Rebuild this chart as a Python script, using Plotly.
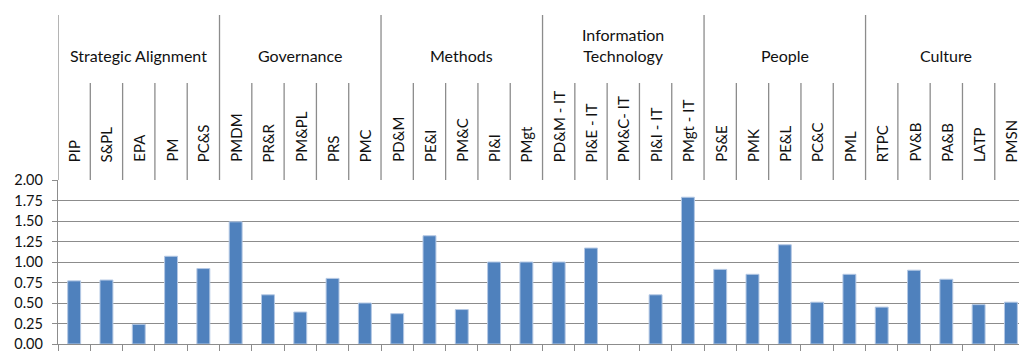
import plotly.graph_objects as go

# Capability areas and their sub-categories
groups = ["Strategic Alignment", "Governance", "Methods",
          "Information<br>Technology", "People", "Culture"]
categories = [
    "PIP", "S&PL", "EPA", "PM", "PC&S",
    "PMDM", "PR&R", "PM&PL", "PRS", "PMC",
    "PD&M", "PE&I", "PM&C", "PI&I", "PMgt",
    "PD&M - IT", "PI&E - IT", "PM&C- IT", "PI&I - IT", "PMgt - IT",
    "PS&E", "PMK", "PE&L", "PC&C", "PML",
    "RTPC", "PV&B", "PA&B", "LATP", "PMSN",
]
scores = [
    0.77, 0.78, 0.24, 1.07, 0.92,
    1.49, 0.60, 0.39, 0.80, 0.50,
    0.37, 1.32, 0.42, 1.00, 1.00,
    1.00, 1.17, 0.00, 0.60, 1.79,
    0.91, 0.85, 1.21, 0.51, 0.85,
    0.45, 0.90, 0.79, 0.48, 0.51,
]
y_ticks = [0.0, 0.25, 0.5, 0.75, 1.0, 1.25, 1.5, 1.75, 2.0]

FONT = "Lato"
TEXT = "#111111"
LINE = "#8c8c8c"
per_group = len(categories) // len(groups)
n = len(categories)
idx = list(range(n))

fig = go.Figure(go.Bar(
    x=idx, y=scores, width=0.4,
    marker=dict(
        color="#4F81BD",
        line=dict(color="#b4c8e4", width=[1 if v > 0 else 0 for v in scores]),
    ),
))

plot_h = 164  # px height of the plotting area
top_sep = 1 + 165 / plot_h      # group divider top
sub_sep = 1 + 97 / plot_h       # category divider top

shapes = []
for b in range(n + 1):
    x0 = b - 0.5
    shapes.append(dict(
        type="line", xref="x", yref="paper", x0=x0, x1=x0,
        y0=1, y1=top_sep if b % per_group == 0 else sub_sep,
        line=dict(color=LINE, width=1.3), layer="above",
    ))

annotations = []
for i, c in enumerate(categories):
    annotations.append(dict(
        x=i, y=1, xref="x", yref="paper", yshift=16,
        text=c, textangle=-90, showarrow=False,
        xanchor="center", yanchor="bottom",
        font=dict(family=FONT, size=15, color=TEXT),
    ))
for g, name in enumerate(groups):
    annotations.append(dict(
        x=g * per_group + (per_group - 1) / 2, y=1 + 113 / plot_h,
        xref="x", yref="paper", text=name, showarrow=False,
        xanchor="center", yanchor="bottom",
        font=dict(family=FONT, size=16, color=TEXT),
    ))

fig.update_layout(
    width=1019, height=352,
    margin=dict(l=58, r=0, t=180, b=8),
    paper_bgcolor="white", plot_bgcolor="white",
    showlegend=False, bargap=0.6,
    shapes=shapes, annotations=annotations,
    font=dict(family=FONT, size=15, color=TEXT),
    xaxis=dict(
        range=[-0.5, 29.25], showgrid=False, zeroline=False,
        tickmode="array", tickvals=[b - 0.5 for b in range(n + 1)],
        ticktext=[""] * (n + 1), ticks="outside", ticklen=6,
        tickcolor=LINE, tickwidth=1.3,
        showline=True, linecolor=LINE, linewidth=1.3,
    ),
    yaxis=dict(
        range=[0, 2.0], tickmode="array", tickvals=y_ticks,
        ticktext=[f"{v:.2f}" for v in y_ticks],
        showgrid=True, gridcolor=LINE, gridwidth=1.3,
        zeroline=False, ticks="outside", ticklen=5,
        tickcolor=LINE, tickwidth=1.3,
        showline=True, linecolor=LINE, linewidth=1.3,
        ticklabelstandoff=6, ticklabeloverflow="allow",
        tickfont=dict(family=FONT, size=14.5, color=TEXT),
    ),
)

fig.write_html("out.html")
